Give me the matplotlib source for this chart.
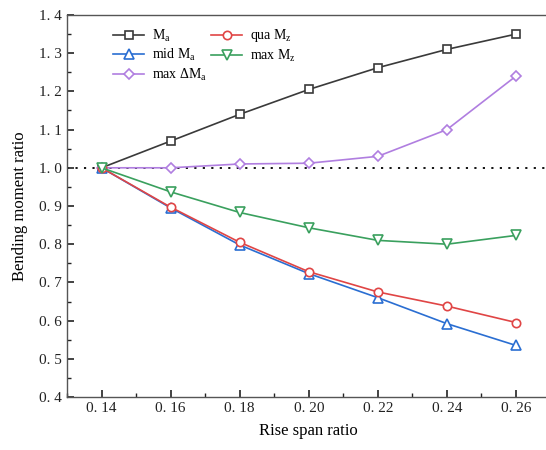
import matplotlib
matplotlib.use("Agg")
import matplotlib.pyplot as plt
from matplotlib.ticker import MultipleLocator, FixedLocator, FixedFormatter

x = [0.14, 0.16, 0.18, 0.20, 0.22, 0.24, 0.26]
xticklabels = ["0. 14", "0. 16", "0. 18", "0. 20", "0. 22", "0. 24", "0. 26"]
Ma = [1.0, 1.07, 1.14, 1.205, 1.262, 1.31, 1.35]
mid_Ma = [1.0, 0.895, 0.798, 0.723, 0.66, 0.592, 0.535]
max_dMa = [1.0, 1.0, 1.01, 1.012, 1.03, 1.10, 1.24]
qua_Mz = [1.0, 0.897, 0.805, 0.728, 0.675, 0.638, 0.595]
max_Mz = [1.0, 0.937, 0.883, 0.843, 0.81, 0.80, 0.823]
yticks = [0.4, 0.5, 0.6, 0.7, 0.8, 0.9, 1.0, 1.1, 1.2, 1.3, 1.4]
yticklabels = ["0. 4", "0. 5", "0. 6", "0. 7", "0. 8", "0. 9", "1. 0", "1. 1", "1. 2", "1. 3", "1. 4"]

plt.rcParams['font.family'] = ['Liberation Serif', 'DejaVu Serif']
plt.rcParams['mathtext.fontset'] = 'custom'
plt.rcParams['mathtext.rm'] = 'Liberation Serif'
plt.rcParams['mathtext.it'] = 'Liberation Serif'

fig = plt.figure(figsize=(5.46, 4.5), dpi=100)
ax = fig.add_axes([67/546, 53/450, 483.5/546, 382/450])

ax.axhline(1.0, color='black', linestyle=(0, (1.2, 3.5)), linewidth=1.3, zorder=1)

base = dict(linewidth=1.2, markerfacecolor='white', markeredgewidth=1.2)
l1, = ax.plot(x, Ma, marker='s', markersize=5.5, color='#3a3a3a', label=r'M$_{\rm a}$', **base)
l2, = ax.plot(x, mid_Ma, marker='^', markersize=7, color='#2a6ed2', label=r'mid M$_{\rm a}$', **base)
l3, = ax.plot(x, max_dMa, marker='D', markersize=5.5, color='#b07ee0', label=r'max $\Delta$M$_{\rm a}$', **base)
l4, = ax.plot(x, qua_Mz, marker='o', markersize=6, color='#e04545', label=r'qua M$_{\rm z}$', **base)
l5, = ax.plot(x, max_Mz, marker='v', markersize=7, color='#3aa05e', label=r'max M$_{\rm z}$', **base)

ax.set_xlim(0.13, 0.27)
ax.set_ylim(0.4, 1.4)
ax.xaxis.set_major_locator(FixedLocator(x))
ax.xaxis.set_major_formatter(FixedFormatter(xticklabels))
ax.xaxis.set_minor_locator(MultipleLocator(0.01))
ax.yaxis.set_major_locator(FixedLocator(yticks))
ax.yaxis.set_major_formatter(FixedFormatter(yticklabels))
ax.yaxis.set_minor_locator(MultipleLocator(0.05))
ax.tick_params(which='both', direction='in', labelsize=11, colors='#222222')
ax.tick_params(which='major', length=5, width=1.2)
ax.tick_params(which='minor', length=3, width=1.0)
for s in ax.spines.values():
    s.set_color('#555555')
    s.set_linewidth(1.0)

ax.set_xlabel('Rise span ratio', fontsize=12, labelpad=6)
ax.set_ylabel('Bending moment ratio', fontsize=12, labelpad=8)

ax.legend(handles=[l1, l2, l3, l4, l5], ncol=2, frameon=False, loc='upper left',
          bbox_to_anchor=(0.07, 1.0), fontsize=10, handlelength=2.2,
          labelspacing=0.25, columnspacing=0.3, handletextpad=0.6)

fig.savefig('out.png', dpi=100)
